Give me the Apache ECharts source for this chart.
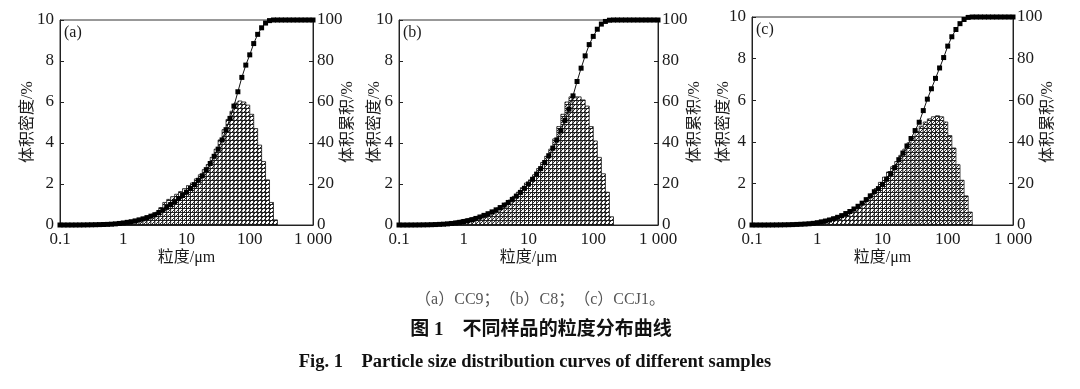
<!DOCTYPE html>
<html>
<head>
<meta charset="utf-8">
<script src="https://cdn.jsdelivr.net/npm/echarts@6/dist/echarts.min.js"></script>
<style>
html,body{margin:0;padding:0;background:#fff;}
#chart{width:1080px;height:389px;}
</style>
</head>
<body>
<div id="chart"></div>
<script>
// Particle size bin edges (µm), log-spaced, 16 per decade
const sizeEdges = [
  0.1, 0.1155, 0.1334, 0.1540, 0.1778, 0.2054, 0.2371, 0.2738, 0.3162, 0.3652, 0.4217, 0.4870, 0.5623, 0.6494, 0.7499, 0.8660,
  1, 1.155, 1.334, 1.540, 1.778, 2.054, 2.371, 2.738, 3.162, 3.652, 4.217, 4.870, 5.623, 6.494, 7.499, 8.660,
  10, 11.55, 13.34, 15.40, 17.78, 20.54, 23.71, 27.38, 31.62, 36.52, 42.17, 48.70, 56.23, 64.94, 74.99, 86.60,
  100, 115.5, 133.4, 154.0, 177.8, 205.4, 237.1, 273.8, 316.2, 365.2, 421.7, 487.0, 562.3, 649.4, 749.9, 866.0,
  1000
];

// Volume density (%) per bin — sample (a) CC9
const densityA = [
  0, 0, 0, 0, 0, 0, 0.01, 0.01, 0.02, 0.03, 0.04, 0.05, 0.06, 0.08, 0.10, 0.12,
  0.15, 0.18, 0.22, 0.27, 0.32, 0.38, 0.45, 0.53, 0.62, 0.85, 1.10, 1.25, 1.38, 1.50, 1.63, 1.77,
  1.92, 2.05, 2.25, 2.45, 2.70, 2.95, 3.30, 3.70, 4.15, 4.65, 5.15, 5.55, 5.95, 6.05, 6.00, 5.85,
  5.40, 4.70, 3.90, 3.10, 2.20, 1.10, 0.25, 0, 0, 0, 0, 0, 0, 0, 0, 0
];
// Cumulative volume (%) at bin edges — sample (a)
const cumulativeA = [
  0, 0, 0, 0, 0.01, 0.02, 0.04, 0.07, 0.1, 0.14, 0.19, 0.24, 0.3, 0.4, 0.55, 0.75,
  1.0, 1.3, 1.6, 2.0, 2.5, 3.0, 3.6, 4.3, 5.0, 6.1, 7.3, 8.6, 10, 11.4, 12.9, 14.4,
  16, 17.8, 19.7, 21.8, 24, 27, 30, 33.5, 37, 41.5, 46.5, 52, 58, 65, 72, 78,
  83, 88.5, 93, 96.2, 98.5, 99.7, 100, 100, 100, 100, 100, 100, 100, 100, 100, 100,
  100
];

// Sample (b) C8
const densityB = [
  0, 0, 0, 0, 0.01, 0.02, 0.03, 0.04, 0.05, 0.07, 0.09, 0.11, 0.14, 0.17, 0.20, 0.24,
  0.28, 0.32, 0.37, 0.42, 0.48, 0.55, 0.63, 0.72, 0.83, 0.95, 1.08, 1.22, 1.40, 1.60, 1.82, 2.05,
  2.20, 2.45, 2.75, 3.05, 3.35, 3.70, 4.20, 4.80, 5.40, 6.00, 6.25, 6.25, 6.25, 6.10, 5.80, 4.80,
  4.10, 3.30, 2.50, 1.60, 0.40, 0, 0, 0, 0, 0, 0, 0, 0, 0, 0, 0
];
const cumulativeB = [
  0, 0, 0, 0.01, 0.02, 0.04, 0.07, 0.1, 0.15, 0.22, 0.3, 0.4, 0.55, 0.75, 1.0, 1.3,
  1.7, 2.1, 2.6, 3.2, 3.9, 4.7, 5.5, 6.4, 7.4, 8.5, 9.7, 11.0, 12.5, 14.1, 15.9, 17.9,
  20, 22.3, 24.8, 27.5, 30.5, 33.8, 37.5, 41.5, 46, 51, 56.5, 63, 70, 76.5, 82.5, 88,
  92, 95.5, 98, 99.3, 99.9, 100, 100, 100, 100, 100, 100, 100, 100, 100, 100, 100,
  100
];

// Sample (c) CCJ1
const densityC = [
  0, 0, 0, 0, 0, 0.01, 0.02, 0.03, 0.04, 0.05, 0.06, 0.07, 0.09, 0.11, 0.13, 0.16,
  0.19, 0.23, 0.28, 0.33, 0.39, 0.45, 0.53, 0.62, 0.72, 0.84, 0.98, 1.13, 1.30, 1.50, 1.75, 2.05,
  2.30, 2.55, 2.80, 3.05, 3.35, 3.65, 3.95, 4.25, 4.50, 4.75, 4.95, 5.10, 5.20, 5.25, 5.20, 4.95,
  4.30, 3.70, 2.90, 2.15, 1.40, 0.62, 0, 0, 0, 0, 0, 0, 0, 0, 0, 0
];
const cumulativeC = [
  0, 0, 0, 0, 0.01, 0.02, 0.04, 0.06, 0.1, 0.14, 0.2, 0.27, 0.36, 0.47, 0.6, 0.8,
  1.1, 1.5, 1.9, 2.4, 3.0, 3.7, 4.5, 5.5, 6.5, 7.7, 9.0, 10.5, 12.2, 14.0, 16.0, 17.5,
  19.5, 22, 24.7, 27.6, 31.4, 34.6, 38, 41.6, 45.4, 49.4, 55, 60.5, 65.5, 70.5, 75.5, 80.5,
  86, 90.5, 94, 96.8, 98.8, 99.8, 100, 100, 100, 100, 100, 100, 100, 100, 100, 100,
  100
];

const xTickLabels = {0.1: '0.1', 1: '1', 10: '10', 100: '100', 1000: '1 000'};
const panelLabels = ['(a)', '(b)', '(c)'];
const xTitle = '粒度/μm';
const yLeftTitle = '体积密度/%';
const yRightTitle = '体积累积/%';
const captionLine1 = '（a）CC9；（b）C8；（c）CCJ1。';
const captionLine2 = '图 1　不同样品的粒度分布曲线';
const captionLine3 = 'Fig. 1    Particle size distribution curves of different samples';

const panels = [
  {dens: densityA, cum: cumulativeA},
  {dens: densityB, cum: cumulativeB},
  {dens: densityC, cum: cumulativeC}
];

// layout
const grids = [
  {left: 60, top: 20, width: 253, height: 205},
  {left: 399, top: 20, width: 259, height: 205},
  {left: 752, top: 17, width: 261, height: 208}
];

const SERIF = '"Liberation Serif", "Times New Roman", "Noto Sans CJK SC", serif';
const TXT = '#1a1a1a';

// hatch pattern
const pc = document.createElement('canvas');
pc.width = 4; pc.height = 4;
const pctx = pc.getContext('2d');
pctx.fillStyle = '#fff';
pctx.fillRect(0, 0, 4, 4);
pctx.strokeStyle = '#111';
pctx.lineWidth = 0.9;
pctx.beginPath();
pctx.moveTo(0, 0.5); pctx.lineTo(4, 0.5);
pctx.moveTo(0, 4); pctx.lineTo(4, 0);
pctx.stroke();
const hatch = {image: pc, repeat: 'repeat'};

const chart = echarts.init(document.getElementById('chart'), null, {renderer: 'canvas'});

const option = {
  animation: false,
  backgroundColor: '#fff',
  grid: grids.map(g => Object.assign({show: true, borderColor: '#333', borderWidth: 1, containLabel: false}, g)),
  xAxis: grids.map((g, i) => ({
    type: 'log', logBase: 10, min: 0.1, max: 1000, gridIndex: i,
    axisLine: {show: true, lineStyle: {color: '#222', width: 1}},
    axisTick: {show: false},
    minorTick: {show: false},
    splitLine: {show: false},
    axisLabel: {
      fontFamily: SERIF, fontSize: 17, color: TXT, margin: 6,
      formatter: v => xTickLabels[Math.round(v * 10) / 10] || String(v)
    }
  })),
  yAxis: [].concat(...grids.map((g, i) => [
    {
      type: 'value', gridIndex: i, min: 0, max: 10, interval: 2, position: 'left',
      axisLine: {show: true, lineStyle: {color: '#222'}},
      axisTick: {show: true, inside: true, length: 4, lineStyle: {color: '#222'}},
      splitLine: {show: false},
      axisLabel: {fontFamily: SERIF, fontSize: 17, color: TXT, margin: 6}
    },
    {
      type: 'value', gridIndex: i, min: 0, max: 100, interval: 20, position: 'right',
      axisLine: {show: true, lineStyle: {color: '#222'}},
      axisTick: {show: true, inside: true, length: 4, lineStyle: {color: '#222'}},
      splitLine: {show: false},
      axisLabel: {fontFamily: SERIF, fontSize: 17, color: TXT, margin: 4}
    }
  ])),
  series: [].concat(...panels.map((p, i) => {
    const bars = [];
    p.dens.forEach((v, k) => { if (v > 0) bars.push([sizeEdges[k], sizeEdges[k + 1], v]); });
    const line = p.cum.map((v, k) => [sizeEdges[k], v]);
    return [
      {
        type: 'custom', xAxisIndex: i, yAxisIndex: i * 2,
        encode: {x: [0, 1], y: 2},
        data: bars,
        clip: true,
        renderItem: (params, api) => {
          const a = api.coord([api.value(0), api.value(2)]);
          const b = api.coord([api.value(1), 0]);
          return {
            type: 'rect',
            shape: {x: a[0], y: a[1], width: b[0] - a[0], height: b[1] - a[1]},
            style: {fill: hatch, stroke: '#111', lineWidth: 0.8}
          };
        },
        z: 2
      },
      {
        type: 'line', xAxisIndex: i, yAxisIndex: i * 2 + 1,
        data: line,
        symbol: 'rect', symbolSize: 5, showSymbol: true,
        lineStyle: {color: '#111', width: 1},
        itemStyle: {color: '#000'},
        z: 3
      }
    ];
  })),
  graphic: [].concat(
    ...grids.map((g, i) => {
      const cx = g.left + g.width / 2;
      const leftX = [28, 375, 724][i];
      const rightX = [348, 695, 1048][i];
      return [
        {type: 'text', x: g.left + 4, y: g.top + 13, style: {text: panelLabels[i], font: '16px ' + SERIF, fill: TXT, textAlign: 'left', textVerticalAlign: 'middle'}},
        {type: 'text', x: cx, y: 258, style: {text: xTitle, font: '16px ' + SERIF, fill: TXT, textAlign: 'center', textVerticalAlign: 'middle'}},
        {type: 'text', x: leftX, y: 122, rotation: Math.PI / 2, style: {text: yLeftTitle, font: '16px ' + SERIF, fill: TXT, textAlign: 'center', textVerticalAlign: 'middle'}},
        {type: 'text', x: rightX, y: 122, rotation: Math.PI / 2, style: {text: yRightTitle, font: '16px ' + SERIF, fill: TXT, textAlign: 'center', textVerticalAlign: 'middle'}}
      ];
    }),
    [
      {type: 'text', x: 540, y: 300, style: {text: captionLine1, font: '16px ' + SERIF, fill: '#555', textAlign: 'center', textVerticalAlign: 'middle'}},
      {type: 'text', x: 541, y: 330, style: {text: captionLine2, font: 'bold 19px ' + SERIF, fill: '#111', textAlign: 'center', textVerticalAlign: 'middle'}},
      {type: 'text', x: 535, y: 362, style: {text: captionLine3, font: 'bold 18.5px ' + SERIF, fill: '#111', textAlign: 'center', textVerticalAlign: 'middle'}}
    ]
  )
};
chart.setOption(option);
</script>
</body>
</html>
